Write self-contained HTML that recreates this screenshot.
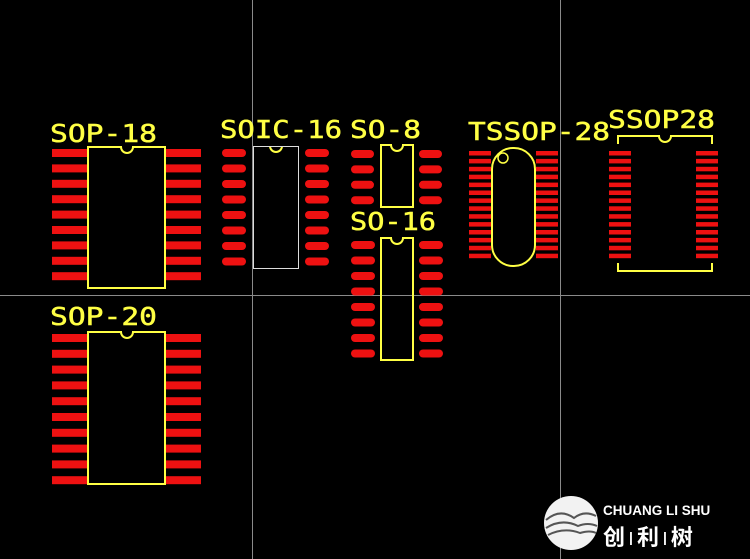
<!DOCTYPE html>
<html><head><style>
html,body{margin:0;padding:0;background:#000;}
svg{display:block}
.l{font-family:"DejaVu Sans Mono","Liberation Mono",monospace;fill:#ffff44;stroke:#ffff44;stroke-width:0.5;font-size:25px;}
</style></head><body>
<svg width="750" height="559" viewBox="0 0 750 559" xmlns="http://www.w3.org/2000/svg">
<rect width="750" height="559" fill="#000"/>
<g stroke="#8a8a8a" stroke-width="1">
<line x1="252.5" y1="0" x2="252.5" y2="559"/>
<line x1="560.5" y1="0" x2="560.5" y2="559"/>
<line x1="0" y1="295.5" x2="750" y2="295.5"/>
</g>
<g fill="#ee1111">
<g id="s18">
<rect x="52" y="149" width="35" height="8"/><rect x="52" y="164.4" width="35" height="8"/><rect x="52" y="179.8" width="35" height="8"/><rect x="52" y="195.2" width="35" height="8"/><rect x="52" y="210.6" width="35" height="8"/><rect x="52" y="226" width="35" height="8"/><rect x="52" y="241.4" width="35" height="8"/><rect x="52" y="256.8" width="35" height="8"/><rect x="52" y="272.2" width="35" height="8"/>
</g>
<use href="#s18" x="114"/>
<g id="s20">
<rect x="52" y="334" width="35" height="8"/><rect x="52" y="349.8" width="35" height="8"/><rect x="52" y="365.6" width="35" height="8"/><rect x="52" y="381.4" width="35" height="8"/><rect x="52" y="397.2" width="35" height="8"/><rect x="52" y="413" width="35" height="8"/><rect x="52" y="428.8" width="35" height="8"/><rect x="52" y="444.6" width="35" height="8"/><rect x="52" y="460.4" width="35" height="8"/><rect x="52" y="476.2" width="35" height="8"/>
</g>
<use href="#s20" x="114"/>
<g id="so16">
<rect x="222" y="149" width="24" height="8" rx="4"/><rect x="222" y="164.5" width="24" height="8" rx="4"/><rect x="222" y="180" width="24" height="8" rx="4"/><rect x="222" y="195.5" width="24" height="8" rx="4"/><rect x="222" y="211" width="24" height="8" rx="4"/><rect x="222" y="226.5" width="24" height="8" rx="4"/><rect x="222" y="242" width="24" height="8" rx="4"/><rect x="222" y="257.5" width="24" height="8" rx="4"/>
</g>
<use href="#so16" x="83"/>
<g id="so8">
<rect x="351" y="150" width="23" height="8" rx="4"/><rect x="351" y="165.4" width="23" height="8" rx="4"/><rect x="351" y="180.8" width="23" height="8" rx="4"/><rect x="351" y="196.2" width="23" height="8" rx="4"/>
</g>
<use href="#so8" x="68"/>
<use href="#so16" x="129" y="92"/>
<use href="#so16" x="197" y="92"/>
<g id="ts">
<rect x="469" y="151" width="22" height="4.5"/><rect x="469" y="158.9" width="22" height="4.5"/><rect x="469" y="166.8" width="22" height="4.5"/><rect x="469" y="174.7" width="22" height="4.5"/><rect x="469" y="182.6" width="22" height="4.5"/><rect x="469" y="190.5" width="22" height="4.5"/><rect x="469" y="198.4" width="22" height="4.5"/><rect x="469" y="206.3" width="22" height="4.5"/><rect x="469" y="214.2" width="22" height="4.5"/><rect x="469" y="222.1" width="22" height="4.5"/><rect x="469" y="230" width="22" height="4.5"/><rect x="469" y="237.9" width="22" height="4.5"/><rect x="469" y="245.8" width="22" height="4.5"/><rect x="469" y="253.7" width="22" height="4.5"/>
</g>
<use href="#ts" x="67"/>
<use href="#ts" x="140"/>
<use href="#ts" x="227"/>
</g>
<g fill="none" stroke="#ffff44" stroke-width="2">
<path d="M88 147 H121 A6 6 0 0 0 133 147 H165 V288 H88 Z"/>
<path d="M88 332 H121 A6 6 0 0 0 133 332 H165 V484 H88 Z"/>
<path d="M381 145 H391 A6 6 0 0 0 403 145 H413 V207 H381 Z"/>
<path d="M381 238 H391 A6 6 0 0 0 403 238 H413 V360 H381 Z"/>
<rect x="492" y="148" width="43" height="118" rx="21"/>
<circle cx="503" cy="158" r="5" stroke-width="1.5"/>
<path d="M618 144 V136 H659 A6 6 0 0 0 671 136 H712 V144"/>
<path d="M618 263 V271 H712 V263"/>
<path d="M270 146 A6 6 0 0 0 282 146"/>
</g>
<rect x="253.5" y="146.5" width="45" height="122" fill="none" stroke="#ddd" stroke-width="1"/>
<text class="l" x="50" y="142" textLength="107" lengthAdjust="spacingAndGlyphs">SOP-18</text>
<text class="l" x="220" y="138" textLength="122" lengthAdjust="spacingAndGlyphs">SOIC-16</text>
<text class="l" x="350" y="138" textLength="71" lengthAdjust="spacingAndGlyphs">SO-8</text>
<text class="l" x="350" y="230" textLength="86" lengthAdjust="spacingAndGlyphs">SO-16</text>
<text class="l" x="468" y="140" textLength="142" lengthAdjust="spacingAndGlyphs">TSSOP-28</text>
<text class="l" x="608" y="128" textLength="107" lengthAdjust="spacingAndGlyphs">SSOP28</text>
<text class="l" x="50" y="325" textLength="107" lengthAdjust="spacingAndGlyphs">SOP-20</text>
<circle cx="571" cy="523" r="27" fill="#f2f2f2"/>
<path d="M546 520 Q560 508 574 518 Q584 510 596 516 M546 528 Q562 518 578 526 Q588 522 597 526 M548 535 Q564 527 580 533 Q590 530 596 533" stroke="#555" stroke-width="2" fill="none"/>
<text x="603" y="515" fill="#fff" font-family="Liberation Sans,sans-serif" font-weight="bold" font-size="13.5">CHUANG LI SHU</text>
<text x="603" y="545" fill="#fff" font-family="Liberation Sans,Noto Sans CJK SC,sans-serif" font-weight="bold" font-size="22">创<tspan font-size="14" dx="4" dy="-3">|</tspan><tspan dx="4" dy="3">利</tspan><tspan font-size="14" dx="4" dy="-3">|</tspan><tspan dx="4" dy="3">树</tspan></text>
</svg>
</body></html>
